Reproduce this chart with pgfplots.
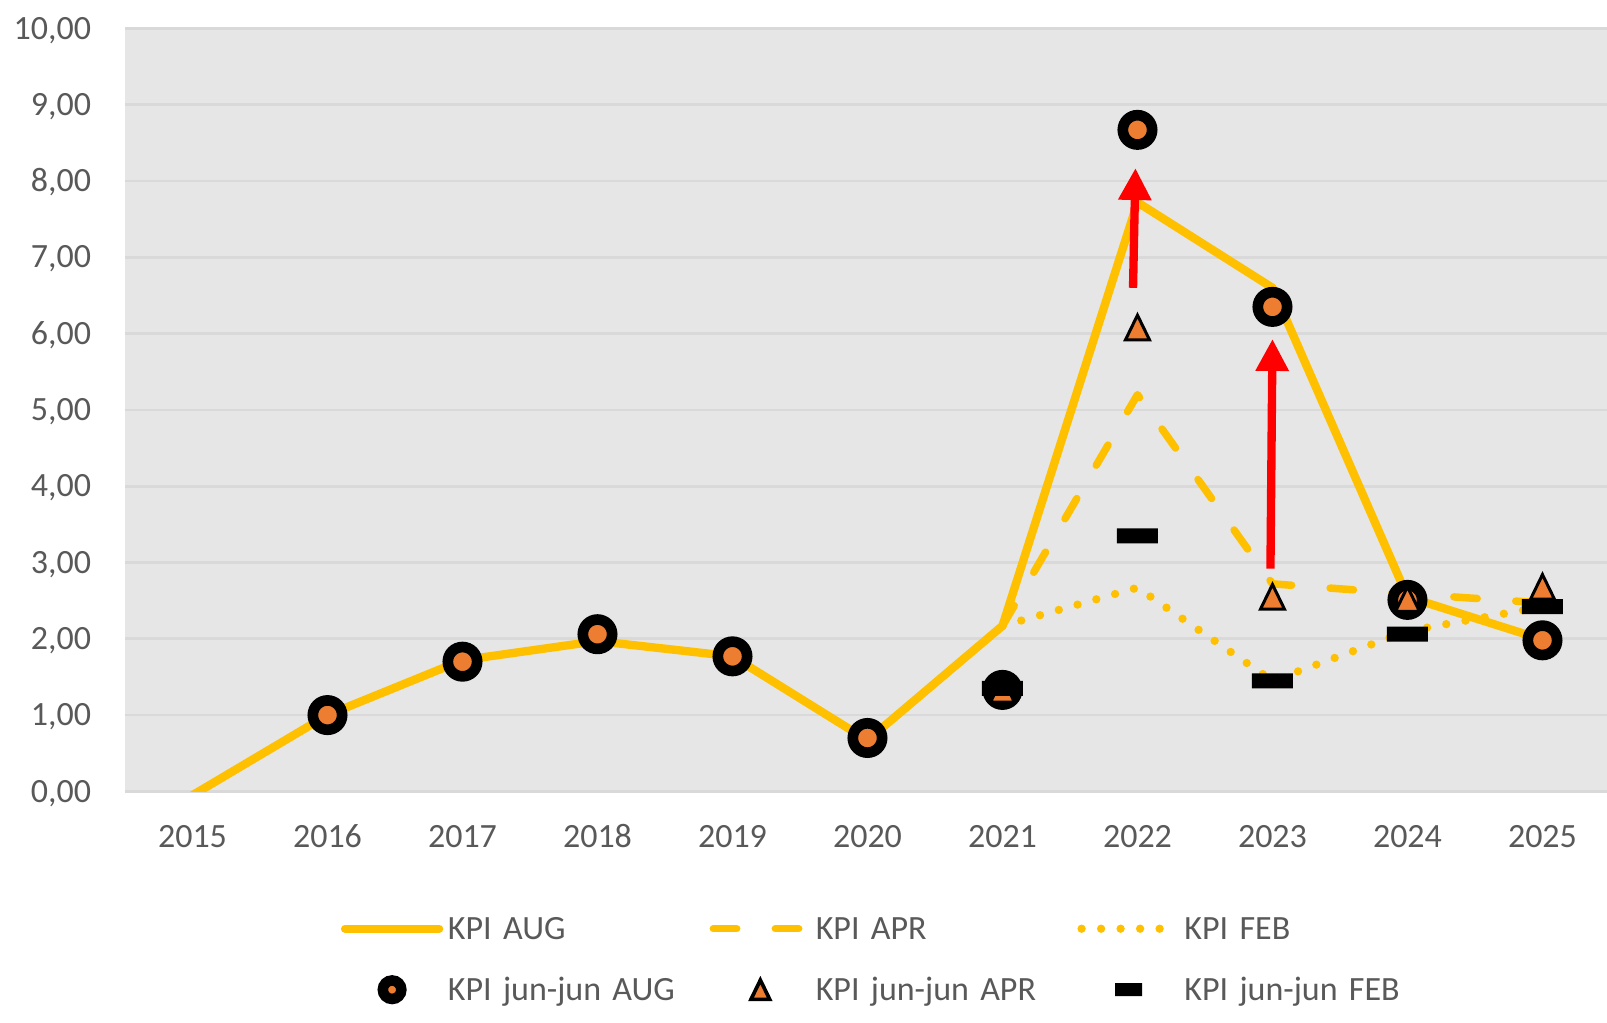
\documentclass[border=0pt]{standalone}
\usepackage{pgfplots}
\pgfplotsset{compat=1.18}
\usepackage{fontspec}
\setmainfont{Carlito}
\usetikzlibrary{arrows.meta}
\definecolor{KGold}{HTML}{FFC000}
\definecolor{KOrange}{HTML}{ED7D31}
\definecolor{KBg}{HTML}{E6E6E6}
\definecolor{KGrid}{HTML}{D9D9D9}
\definecolor{KText}{HTML}{595959}
\pgfdeclareplotmark{ktri}{%
  \pgfpathmoveto{\pgfpoint{0pt}{3.7pt}}%
  \pgfpathlineto{\pgfpoint{3.6pt}{-3.7pt}}%
  \pgfpathlineto{\pgfpoint{-3.6pt}{-3.7pt}}%
  \pgfpathclose
  \pgfusepathqfillstroke}
\pgfdeclareplotmark{kdash}{%
  \pgfsetcornersarced{\pgfpoint{1.2pt}{1.2pt}}%
  \pgfpathmoveto{\pgfpoint{-6.15pt}{0pt}}%
  \pgfpathlineto{\pgfpoint{-6.15pt}{2.25pt}}%
  \pgfpathlineto{\pgfpoint{6.15pt}{2.25pt}}%
  \pgfpathlineto{\pgfpoint{6.15pt}{-2.25pt}}%
  \pgfpathlineto{\pgfpoint{-6.15pt}{-2.25pt}}%
  \pgfpathclose
  \pgfusepathqfill}
\begin{document}
\begin{tikzpicture}
\useasboundingbox (-37.5pt,-69.48pt) rectangle (444.6pt,237.42pt);
\begin{axis}[
  at={(0,0)}, anchor=south west,
  scale only axis,
  width=444.6pt, height=228.9pt,
  xmin=-0.5, xmax=10.478,
  ymin=0, ymax=10,
  xtick={0,1,2,3,4,5,6,7,8,9,10},
  xticklabels={2015,2016,2017,2018,2019,2020,2021,2022,2023,2024,2025},
  ytick={0,1,2,3,4,5,6,7,8,9,10},
  ymajorgrids,
  major grid style={KGrid, line width=0.8pt},
  axis background/.style={fill=KBg},
  axis line style={draw=none},
  major tick length=0pt,
  /pgf/number format/assume math mode=true,
  /pgf/number format/fixed,
  /pgf/number format/fixed zerofill,
  /pgf/number format/precision=2,
  /pgf/number format/use comma,
  tick label style={font=\fontsize{10.2pt}{12pt}\selectfont, text=KText, inner sep=0pt},
  xticklabel style={anchor=base, yshift=-16.8pt},
  yticklabel style={anchor=base east, xshift=-10pt, yshift=-3.2pt},
  legend columns=3,
  legend cell align=left,
  legend image code/.code={\draw[mark repeat=2,mark phase=2,#1] plot coordinates {(0pt,0pt) (14.1pt,0pt) (28.2pt,0pt)};},
  legend style={
    at={(axis description cs:0.1457,-0.1612)}, anchor=north west,
    draw=none, fill=none, inner sep=0pt, outer sep=0pt,
    row sep=9.7pt,
    font=\fontsize{10.2pt}{12pt}\selectfont, text=KText,
    nodes={text width=78.5pt, align=left, inner sep=0pt, text height=7.6pt, text depth=1pt},
    /tikz/every odd column/.append style={column sep=1.4pt},
  },
]
% lines
\addplot[KGold, line width=2.5pt, line join=round, line cap=round] coordinates {
  (0,-0.05) (1,1.00) (2,1.72) (3,1.97) (4,1.77) (5,0.67) (6,2.17) (7,7.72) (8,6.60) (9,2.55) (10,1.99)};
\addlegendentry{KPI AUG}
\addplot[KGold, line width=2.25pt, line join=round, line cap=round, dash pattern=on 7pt off 11.6pt] coordinates {
  (6,2.17) (7,5.20) (8,2.72) (9,2.59) (10,2.47)};
\addlegendentry{KPI APR}
\addplot[KGold, line width=2.5pt, line join=round, line cap=round, dash pattern=on 0pt off 5.85pt] coordinates {
  (6,2.17) (7,2.67) (8,1.45) (9,2.10) (10,2.42)};
\addlegendentry{KPI FEB}
% markers
\addplot[only marks, mark=*, mark size=4.4pt, mark options={draw=black, fill=KOrange, line width=3.2pt},
  legend image post style={mark size=2.78pt, mark options={draw=black, fill=KOrange, line width=3.15pt}}] coordinates {
  (1,1.00) (2,1.70) (3,2.06) (4,1.77) (5,0.70) (6,1.33) (7,8.67) (8,6.35) (9,2.51) (10,1.98)};
\addlegendentry{KPI jun-jun AUG}
\addplot[only marks, mark=ktri, mark options={draw=black, fill=KOrange, line width=0.9pt, line join=miter},
  legend image post style={mark options={draw=black, fill=KOrange, line width=1.1pt, line join=miter, scale=0.78}}] coordinates {
  (6,1.33) (7,6.08) (8,2.55) (9,2.52) (10,2.68)};
\addlegendentry{KPI jun-jun APR}
\addplot[only marks, mark=kdash, mark options={draw=none, fill=black},
  legend image post style={mark options={draw=none, fill=black, xscale=0.66, yscale=0.87}}] coordinates {
  (6,1.35) (7,3.35) (8,1.45) (9,2.06) (10,2.42)};
\addlegendentry{KPI jun-jun FEB}
% red arrows
\addplot[red, line width=2.5pt, -{Triangle[width=9.4pt,length=9.6pt]}, forget plot] coordinates {(6.967,6.60) (6.985,8.17)};
\addplot[red, line width=2.5pt, -{Triangle[width=9.4pt,length=9.6pt]}, forget plot] coordinates {(7.985,2.92) (8.0,5.93)};
\end{axis}
\end{tikzpicture}
\end{document}
